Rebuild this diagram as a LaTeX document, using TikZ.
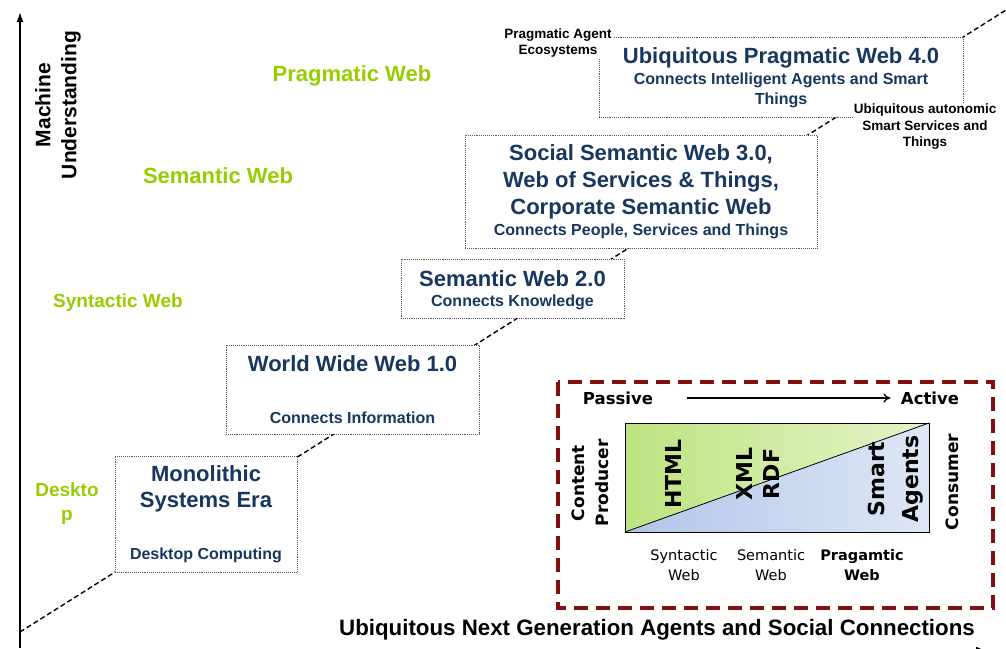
\documentclass[tikz,border=0pt]{standalone}
\usepackage{fontspec}
\setmainfont{Liberation Sans}
\newfontfamily\dejavu{DejaVu Sans}
\usetikzlibrary{arrows.meta,positioning}
\definecolor{navy}{HTML}{17375E}
\definecolor{lime}{HTML}{99CC00}
\definecolor{darkred}{HTML}{7F1010}
\definecolor{grnA}{HTML}{BDE37F}
\definecolor{grnB}{HTML}{E6F4CA}
\definecolor{bluA}{HTML}{B2C5E8}
\definecolor{bluB}{HTML}{DEE7F6}

\begin{document}
\begin{tikzpicture}[x=1pt,y=-1pt,
    stage/.style={draw=black!65,densely dotted,line width=0.9pt,fill=white,inner sep=0pt},
    ttl/.style={align=center,text=navy,font=\fontsize{22}{26}\selectfont\bfseries},
    sub/.style={align=center,text=navy,font=\fontsize{16}{20}\selectfont\bfseries},
    era/.style={align=center,text=lime,font=\fontsize{22}{24}\selectfont\bfseries},
    side/.style={align=center,fill=white,inner sep=1pt,font=\fontsize{13.5}{16.5}\selectfont\bfseries},
    leg/.style={rotate=90,align=center,inner sep=0pt,font=\dejavu\fontsize{17}{24}\selectfont\bfseries},
    webl/.style={align=center,inner sep=0pt,font=\dejavu\fontsize{14.5}{20}\selectfont}
  ]
    \useasboundingbox (0,0) rectangle (1006,648);

    % Axes
    \coordinate (orig) at (20,648);
    \coordinate (ytop) at (20,12);
    \coordinate (xo) at (20,650);
    \coordinate (xend) at (985,650);
    \draw[line width=1.6pt,-{Latex[length=10pt,width=7pt]}] (orig) -- (ytop);
    \draw[line width=1.6pt,-{Latex[length=9pt,width=7pt]}] (xo) -- (xend);
    \node[rotate=90,align=center,font=\fontsize{21}{26}\selectfont\bfseries] (mu) at (58,105) {Machine\\Understanding};
    \node[font=\fontsize{22.3}{24}\selectfont\bfseries] (xlab) at (657,630) {Ubiquitous Next Generation Agents and Social Connections};

    % Diagonal evolution line
    \coordinate (dstart) at (20,632);
    \coordinate (dend) at (1006,10);
    \draw[line width=1.4pt,dash pattern=on 5pt off 3pt] (dstart) -- (dend);

    % Era labels
    \node[era] (prag) at (352,76) {Pragmatic Web};
    \node[era] (sem) at (218,176) {Semantic Web};
    \node[era,font=\fontsize{19}{24}\selectfont\bfseries] (syn) at (118,303) {Syntactic Web};
    \node[era,font=\fontsize{19}{24}\selectfont\bfseries] (desk) at (67,504) {Deskto\\p};

    % Stages
    \node[stage,minimum width=182,minimum height=116] (mono) at (206,514) {};
    \node[ttl] (monot) at (206,489) {Monolithic\\Systems Era};
    \node[sub] (monos) at (206,555) {Desktop Computing};

    \node[stage,minimum width=253,minimum height=89] (www) at (352.5,389.5) {};
    \node[ttl] (wwwt) at (352.5,364) {World Wide Web 1.0};
    \node[sub] (wwws) at (352.5,418) {Connects Information};

    \node[stage,minimum width=223,minimum height=59] (sw) at (512.5,288.5) {};
    \node[ttl] (swt) at (512.5,279) {Semantic Web 2.0};
    \node[sub] (sws) at (512.5,302) {Connects Knowledge};

    \node[stage,minimum width=352,minimum height=113] (ssw) at (641,191.5) {};
    \node[ttl,font=\fontsize{22}{27}\selectfont\bfseries] (sswt) at (641,182) {Social Semantic Web 3.0,\\Web of Services \& Things,\\Corporate Semantic Web};
    \node[sub] (ssws) at (641,231) {Connects People, Services and Things};

    \node[stage,minimum width=364,minimum height=80] (upw) at (781,77) {};
    \node[ttl] (upwt) at (781,58) {Ubiquitous Pragmatic Web 4.0};
    \node[sub] (upws) at (781,90) {Connects Intelligent Agents and Smart\\Things};

    \node[side] (eco) at (558,43) {Pragmatic Agent\\Ecosystems};
    \node[side] (auto) at (925,127) {Ubiquitous autonomic\\Smart Services and\\Things};

    % Legend box
    \draw[darkred,line width=3.5pt,dash pattern=on 14pt off 8pt] (558,382) rectangle (993,608);
    \node[font=\dejavu\fontsize{16.5}{20}\selectfont\bfseries] (passive) at (618,398) {Passive};
    \node[font=\dejavu\fontsize{16.5}{20}\selectfont\bfseries] (active) at (930,398) {Active};
    \draw[line width=1.3pt,-{To[length=7pt,width=9pt]}] ([xshift=30pt]passive.east) -- ([xshift=-7pt]active.west);

    \shade[left color=grnA,right color=grnB] (625,423) -- (929,423) -- (625,532) -- cycle;
    \shade[left color=bluA,right color=bluB] (625,532) -- (929,423) -- (929,532) -- cycle;
    \draw[line width=0.8pt] (625,423) rectangle (929,532);
    \draw[line width=0.8pt] (625,532) -- (929,423);

    \node[leg,font=\dejavu\fontsize{22}{28}\selectfont\bfseries] (html) at (673,474) {HTML};
    \node[leg,font=\dejavu\fontsize{22}{27}\selectfont\bfseries] (xml) at (758,474) {XML\\RDF};
    \node[leg,font=\dejavu\fontsize{22}{34}\selectfont\bfseries] (agents) at (896,479) {Smart\\Agents};
    \node[leg] (prod) at (590,483) {Content\\Producer};
    \node[leg] (cons) at (952,482) {Consumer};

    \node[webl] (synw) at (684,565) {Syntactic\\Web};
    \node[webl] (semw) at (771,565) {Semantic\\Web};
    \node[webl,font=\dejavu\fontsize{14.5}{20}\selectfont\bfseries] (pragw) at (862,565) {Pragamtic\\Web};
  \end{tikzpicture}
\end{document}
